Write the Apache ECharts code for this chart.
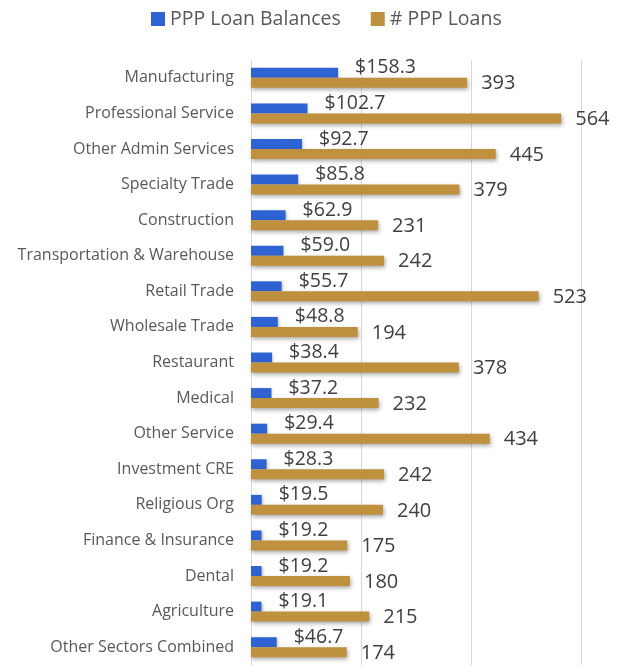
<!DOCTYPE html>
<html>
<head>
<meta charset="utf-8">
<script src="https://cdn.jsdelivr.net/npm/echarts@6/dist/echarts.min.js"></script>
<style>
  html, body { margin: 0; padding: 0; background: #fff; }
  #chart { width: 622px; height: 666px; }
</style>
</head>
<body>
<div id="chart"></div>
<script>
// Sectors, top to bottom
const sectors = [
  'Manufacturing', 'Professional Service', 'Other Admin Services', 'Specialty Trade',
  'Construction', 'Transportation & Warehouse', 'Retail Trade', 'Wholesale Trade',
  'Restaurant', 'Medical', 'Other Service', 'Investment CRE', 'Religious Org',
  'Finance & Insurance', 'Dental', 'Agriculture', 'Other Sectors Combined'
];
// PPP loan balances ($ millions)
const loanBalances = [158.3, 102.7, 92.7, 85.8, 62.9, 59.0, 55.7, 48.8, 38.4, 37.2, 29.4, 28.3, 19.5, 19.2, 19.2, 19.1, 46.7];
// Number of PPP loans
const loanCounts = [393, 564, 445, 379, 231, 242, 523, 194, 378, 232, 434, 242, 240, 175, 180, 215, 174];

const FONT = '"Open Sans", "Noto Sans", sans-serif';
const TEXT = '#595959';

const chart = echarts.init(document.getElementById('chart'), null, { renderer: 'canvas' });
chart.setOption({
  animation: false,
  backgroundColor: '#ffffff',
  textStyle: { fontFamily: FONT },
  legend: {
    top: 4,
    left: 146,
    itemWidth: 14,
    itemHeight: 14,
    itemGap: 30,
    icon: 'rect',
    textStyle: { fontFamily: FONT, fontSize: 19.5, color: TEXT }
  },
  grid: { left: 251, right: 41, top: 60, bottom: 1, containLabel: false },
  xAxis: {
    type: 'value',
    min: 0,
    max: 600,
    interval: 200,
    axisLabel: { show: false },
    axisLine: { show: false },
    axisTick: { show: false },
    splitLine: { lineStyle: { color: '#d9d9d9', width: 1 } }
  },
  yAxis: {
    type: 'category',
    inverse: true,
    data: sectors,
    axisLine: { lineStyle: { color: '#d9d9d9' } },
    axisTick: { length: 6, lineStyle: { color: '#d9d9d9' } },
    axisLabel: { fontFamily: FONT, fontSize: 16, color: TEXT, margin: 17 }
  },
  series: [
    {
      name: 'PPP Loan Balances',
      type: 'bar',
      data: loanBalances,
      barWidth: 10,
      barGap: '0%',
      itemStyle: {
        color: '#2f63d3',
        shadowColor: 'rgba(0,0,0,0.25)', shadowBlur: 3, shadowOffsetX: 1, shadowOffsetY: 1
      },
      label: {
        show: true,
        position: 'right',
        distance: 17,
        offset: [0, -5],
        fontFamily: FONT,
        fontSize: 19.5,
        color: '#404040',
        formatter: p => '$' + p.value.toFixed(1)
      }
    },
    {
      name: '# PPP Loans',
      type: 'bar',
      data: loanCounts,
      barWidth: 10,
      itemStyle: {
        color: '#bf913f',
        shadowColor: 'rgba(0,0,0,0.35)', shadowBlur: 4, shadowOffsetX: 1, shadowOffsetY: 2
      },
      label: {
        show: true,
        position: 'right',
        distance: 14,
        offset: [0, 1],
        fontFamily: FONT,
        fontSize: 20,
        color: '#404040'
      }
    }
  ]
});
</script>
</body>
</html>
